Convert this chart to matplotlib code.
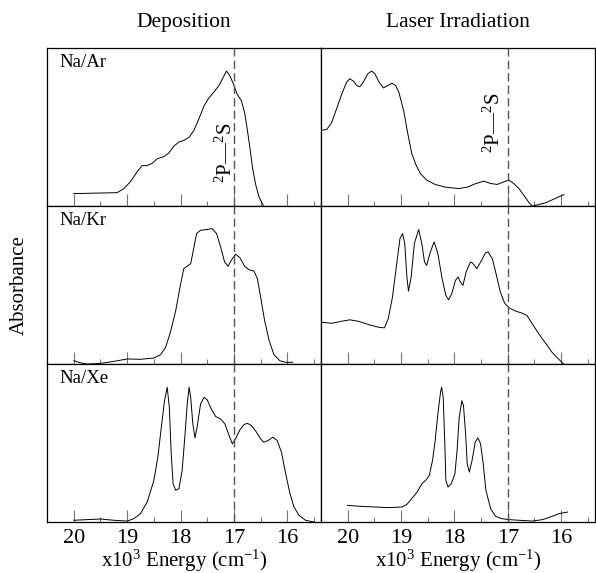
import numpy as np
import matplotlib
matplotlib.use("Agg")
import matplotlib.pyplot as plt
from matplotlib.ticker import MultipleLocator

plt.rcParams['font.family'] = ['Liberation Serif', 'DejaVu Serif']
plt.rcParams['mathtext.fontset'] = 'custom'
plt.rcParams['mathtext.rm'] = 'Liberation Serif'
plt.rcParams['mathtext.it'] = 'Liberation Serif:italic'

# energy in 10^3 cm^-1, absorbance in arbitrary units (0..1 of panel height)
ar_dep_x = [20.0, 19.19, 19.06, 18.94, 18.81, 18.72, 18.63, 18.53, 18.44, 18.31, 18.22,
            18.13, 18.03, 17.94, 17.84, 17.75, 17.66, 17.56, 17.47, 17.38, 17.28, 17.2,
            17.14, 17.08, 17.01, 16.94, 16.86, 16.8, 16.75, 16.7, 16.65, 16.59, 16.53, 16.45]
ar_dep_y = [0.079, 0.085, 0.111, 0.154, 0.218, 0.256, 0.256, 0.271, 0.299, 0.314, 0.335,
            0.378, 0.406, 0.415, 0.436, 0.479, 0.549, 0.635, 0.684, 0.72, 0.763, 0.816,
            0.855, 0.827, 0.774, 0.709, 0.667, 0.592, 0.485, 0.368, 0.239, 0.132, 0.058, 0.004]

ar_las_x = [20.5, 20.39, 20.3, 20.21, 20.11, 20.02, 19.96, 19.89, 19.83, 19.77, 19.71,
            19.62, 19.55, 19.49, 19.41, 19.33, 19.25, 19.17, 19.1, 19.04, 18.95, 18.87,
            18.8, 18.72, 18.64, 18.52, 18.36, 18.17, 17.92, 17.76, 17.61, 17.45, 17.32,
            17.2, 17.07, 16.98, 16.89, 16.79, 16.7, 16.6, 16.54, 16.29, 15.95]
ar_las_y = [0.479, 0.485, 0.528, 0.613, 0.709, 0.784, 0.806, 0.791, 0.763, 0.756, 0.784,
            0.838, 0.855, 0.838, 0.784, 0.748, 0.763, 0.778, 0.763, 0.72, 0.603, 0.453,
            0.335, 0.261, 0.207, 0.165, 0.137, 0.12, 0.111, 0.12, 0.141, 0.158, 0.143,
            0.137, 0.154, 0.165, 0.143, 0.111, 0.068, 0.021, 0.0, 0.021, 0.073]

kr_dep_x = [20.0, 19.875, 19.75, 19.5, 19.25, 19.0, 18.75, 18.5, 18.375, 18.28, 18.19,
            18.09, 18.01, 17.94, 17.875, 17.81, 17.76, 17.7, 17.625, 17.5, 17.41, 17.325,
            17.25, 17.175, 17.11, 17.05, 16.97, 16.89, 16.8, 16.72, 16.625, 16.56, 16.5,
            16.425, 16.34, 16.25, 16.14, 16.03, 15.9]
kr_dep_y = [0.021, 0.008, 0.0, 0.004, 0.017, 0.032, 0.03, 0.038, 0.059, 0.106, 0.201,
            0.339, 0.487, 0.604, 0.619, 0.636, 0.72, 0.826, 0.847, 0.852, 0.858, 0.826,
            0.742, 0.646, 0.619, 0.657, 0.695, 0.674, 0.619, 0.597, 0.589, 0.54, 0.424,
            0.275, 0.148, 0.059, 0.021, 0.011, 0.011]

kr_las_x = [20.5, 20.3, 20.11, 19.96, 19.8, 19.61, 19.42, 19.31, 19.24, 19.16, 19.08,
            19.02, 18.97, 18.93, 18.89, 18.86, 18.81, 18.75, 18.67, 18.61, 18.56, 18.52,
            18.45, 18.38, 18.31, 18.23, 18.16, 18.11, 18.05, 17.98, 17.93, 17.89, 17.84,
            17.78, 17.7, 17.66, 17.58, 17.49, 17.42, 17.37, 17.29, 17.22, 17.14, 17.06,
            16.98, 16.85, 16.73, 16.64, 16.54, 16.42, 16.29, 16.17, 16.05, 15.95]
kr_las_y = [0.265, 0.258, 0.271, 0.28, 0.271, 0.25, 0.233, 0.229, 0.286, 0.424, 0.636,
            0.794, 0.826, 0.763, 0.551, 0.462, 0.551, 0.763, 0.852, 0.763, 0.646, 0.625,
            0.71, 0.773, 0.699, 0.54, 0.434, 0.407, 0.445, 0.53, 0.551, 0.519, 0.498,
            0.583, 0.646, 0.64, 0.604, 0.657, 0.703, 0.71, 0.667, 0.572, 0.456, 0.386,
            0.356, 0.335, 0.322, 0.307, 0.254, 0.191, 0.131, 0.074, 0.032, 0.0]

xe_dep_x = [20.0, 19.75, 19.5, 19.25, 19.0, 18.875, 18.75, 18.625, 18.5, 18.425, 18.36,
            18.3, 18.25, 18.21, 18.175, 18.14, 18.09, 18.03, 17.97, 17.92, 17.875, 17.84,
            17.81, 17.77, 17.73, 17.69, 17.625, 17.56, 17.5, 17.425, 17.34, 17.25, 17.17,
            17.09, 17.03, 16.97, 16.89, 16.81, 16.75, 16.675, 16.59, 16.5, 16.44, 16.36,
            16.27, 16.19, 16.11, 16.03, 15.95, 15.875, 15.78, 15.66, 15.5]
xe_dep_y = [0.011, 0.015, 0.019, 0.011, 0.006, 0.021, 0.053, 0.126, 0.263, 0.411, 0.6,
            0.768, 0.853, 0.726, 0.432, 0.242, 0.2, 0.211, 0.326, 0.537, 0.747, 0.853,
            0.789, 0.621, 0.533, 0.6, 0.747, 0.789, 0.773, 0.716, 0.667, 0.653, 0.621,
            0.547, 0.495, 0.526, 0.583, 0.617, 0.625, 0.611, 0.575, 0.526, 0.505, 0.516,
            0.537, 0.516, 0.442, 0.305, 0.179, 0.095, 0.042, 0.011, 0.0]

xe_las_x = [20.0, 19.74, 19.49, 19.24, 18.98, 18.89, 18.8, 18.7, 18.61, 18.53, 18.47,
            18.41, 18.36, 18.31, 18.26, 18.24, 18.21, 18.18, 18.16, 18.12, 18.06, 17.99,
            17.95, 17.91, 17.86, 17.83, 17.79, 17.76, 17.72, 17.67, 17.61, 17.56, 17.51,
            17.46, 17.41, 17.32, 17.23, 17.11, 16.98, 16.79, 16.54, 16.35, 16.17, 16.04, 15.88]
xe_las_y = [0.105, 0.099, 0.095, 0.091, 0.095, 0.112, 0.147, 0.189, 0.242, 0.267, 0.295,
            0.389, 0.516, 0.684, 0.821, 0.853, 0.789, 0.495, 0.263, 0.221, 0.242, 0.305,
            0.453, 0.663, 0.768, 0.737, 0.558, 0.368, 0.316, 0.389, 0.505, 0.533, 0.495,
            0.368, 0.2, 0.084, 0.036, 0.021, 0.015, 0.011, 0.006, 0.015, 0.036, 0.053, 0.063]

labels = ['Na/Ar', 'Na/Kr', 'Na/Xe']
columns = ['Deposition', 'Laser Irradiation']
series = [[(ar_dep_x, ar_dep_y), (ar_las_x, ar_las_y)],
          [(kr_dep_x, kr_dep_y), (kr_las_x, kr_las_y)],
          [(xe_dep_x, xe_dep_y), (xe_las_x, xe_las_y)]]
transition = 17.0
term = r'$^2$P—$^2$S'

fig, axes = plt.subplots(3, 2, figsize=(5.96, 5.73), dpi=100, sharex=True)
fig.subplots_adjust(left=0.079, right=0.998, top=0.916, bottom=0.089, wspace=0, hspace=0)

for i in range(3):
    for j in range(2):
        ax = axes[i, j]
        x, y = series[i][j]
        ax.plot(x, y, color='black', lw=0.7, solid_joinstyle='round')
        ax.axvline(transition, color='#555555', lw=1.0, ls=(0, (6, 3)))
        ax.set_xlim(20.5, 15.37)
        ax.set_ylim(0, 1)
        ax.set_yticks([])
        ax.xaxis.set_major_locator(MultipleLocator(1))
        ax.xaxis.set_minor_locator(MultipleLocator(0.5))
        ax.tick_params(axis='x', which='major', direction='in', length=8.5, width=0.8,
                       color='#777777', labelsize=16, pad=5)
        ax.tick_params(axis='x', which='minor', direction='in', length=3.8, width=0.8,
                       color='#777777')
        for s in ax.spines.values():
            s.set_linewidth(0.9)
        if j == 0:
            ax.text(0.045, 0.96, labels[i], transform=ax.transAxes, ha='left', va='top',
                    fontsize=13.5)
        if i == 0:
            ax.set_title(columns[j], fontsize=15.5, pad=15)
        if i == 2:
            ax.set_xlabel(r'x10$^3$ Energy (cm$^{-1}$)', fontsize=15, labelpad=0)

axes[0, 0].text(17.14, 0.34, term, rotation=90, ha='center', va='center', fontsize=15)
axes[0, 1].text(17.26, 0.53, term, rotation=90, ha='center', va='center', fontsize=15)

fig.text(0.033, 0.503, 'Absorbance', rotation=90, ha='center', va='center', fontsize=15)

fig.savefig('out.png', dpi=100)
